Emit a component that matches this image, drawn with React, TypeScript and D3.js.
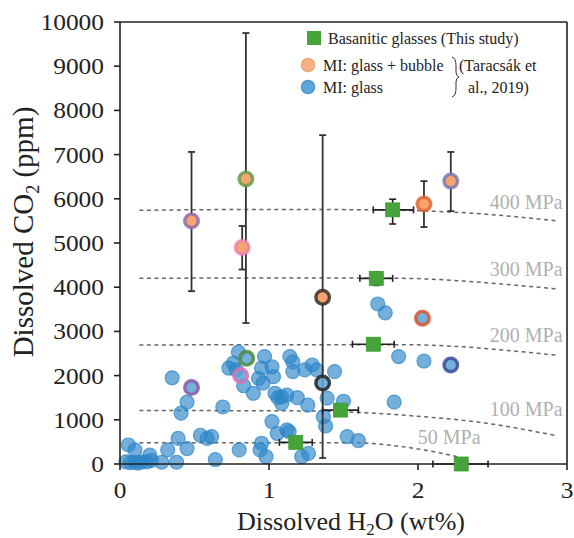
import React from 'react';
import * as d3 from 'd3';

const W = 574;
const H = 538;
const PL = 120, PR = 567, PT = 22, PB = 464;

const xTicks = [0, 1, 2, 3];
const yTicks = [0, 1000, 2000, 3000, 4000, 5000, 6000, 7000, 8000, 9000, 10000];

// MI: glass (Taracsák et al., 2019) [H2O wt%, CO2 ppm]
const glassMI: [number, number][] = [
  [0.056, 430], [0.10, 320], [0.04, 50], [0.07, 30], [0.10, 40], [0.145, 50], [0.18, 50],
  [0.21, 80], [0.20, 200], [0.12, 20], [0.28, 40], [0.32, 320], [0.38, 40], [0.39, 580],
  [0.41, 1150], [0.45, 350], [0.45, 1400], [0.35, 1950], [0.54, 650], [0.585, 580], [0.615, 620],
  [0.64, 100], [0.69, 1290], [0.73, 2170], [0.76, 2280], [0.78, 2130], [0.795, 2530], [0.80, 320],
  [0.83, 1770], [0.895, 1600], [0.93, 1940], [0.95, 2170], [0.96, 1830], [0.97, 2430], [1.02, 2200],
  [1.03, 1975], [1.04, 1600], [1.06, 1500], [1.085, 1520], [1.085, 1370], [1.12, 1560], [1.19, 1500],
  [1.26, 1330], [1.14, 2430], [1.16, 2310], [1.16, 2090], [1.24, 2130], [1.29, 2240], [1.32, 2130],
  [1.44, 2090], [1.39, 1490], [1.50, 1420], [1.365, 1070], [1.38, 860], [1.02, 960], [1.055, 690],
  [1.12, 770], [1.135, 730], [0.95, 470], [0.94, 320], [0.98, 165], [1.22, 165], [1.265, 240],
  [1.525, 620], [1.60, 530], [1.73, 3620], [1.78, 3420], [1.87, 2430], [2.04, 2330], [1.84, 1400],
];

// MI: glass with highlighted (paired) rings
const ringGlassMI: [number, number][] = [
  [0.48, 1730], [0.85, 2390], [0.81, 2000], [1.36, 1830], [2.03, 3300], [2.22, 2240],
];

// MI: glass + bubble
const bubbleMI: [number, number][] = [
  [0.48, 5500], [0.845, 6450], [0.82, 4900], [1.36, 3770], [2.04, 5880], [2.22, 6400],
];
const bubbleErr: [number, number][] = [
  [3910, 7060], [3190, 9750], [4400, 5385], [135, 7440], [5360, 6400], [5720, 7060],
];

// Basanitic glasses (this study)
const basaniteMI: [number, number][] = [
  [1.83, 5750], [1.72, 4200], [1.70, 2710], [1.48, 1220], [1.18, 490], [2.29, 0],
];
const basaniteXErr: [number, number][] = [
  [1.70, 1.97], [1.61, 1.83], [1.56, 1.84], [1.36, 1.60], [1.07, 1.29], [2.10, 2.47],
];
const basaniteYErr: [number, number][] = [
  [5430, 5990], [4040, 4340], [2710, 2710], [1220, 1220], [490, 490], [0, 0],
];

// Isobars
const isobarLabels = ['400 MPa', '300 MPa', '200 MPa', '100 MPa', '50 MPa'];
const isobar400: [number, number][] = [[0.13, 5740], [1.0, 5760], [1.7, 5750], [2.1, 5720], [2.5, 5640], [2.93, 5500]];
const isobar300: [number, number][] = [[0.13, 4200], [1.0, 4210], [1.9, 4200], [2.3, 4140], [2.6, 4060], [2.93, 3960]];
const isobar200: [number, number][] = [[0.13, 2690], [1.0, 2700], [1.9, 2700], [2.3, 2650], [2.6, 2570], [2.93, 2460]];
const isobar100: [number, number][] = [[0.13, 1210], [1.3, 1200], [1.7, 1150], [2.0, 1080], [2.4, 950], [2.93, 640]];
const isobar50: [number, number][] = [[0.13, 482], [1.6, 480], [1.8, 430], [2.0, 340], [2.15, 250], [2.28, 150]];
const isobarLabelAt: [number, number][] = [[2.97, 5930], [2.97, 4410], [2.97, 2920], [2.97, 1245], [2.42, 610]];

// styles
const ringGlassColors = ['#8a5aa8', '#4e8c3a', '#e070b0', '#222222', '#d9532a', '#3a4a9a'];
const bubbleRingColors = ['#8a66b0', '#5f9a48', '#ec80b8', '#2a2420', '#e0602e', '#7276b4'];

const SERIF = '"Liberation Serif", "Times New Roman", serif';

export default function App() {
  const x = d3.scaleLinear().domain([0, 3]).range([PL, PR]);
  const y = d3.scaleLinear().domain([0, 10000]).range([PB, PT]);
  const line = d3.line<[number, number]>().x(d => x(d[0])).y(d => y(d[1])).curve(d3.curveMonotoneX);
  const isobars = [isobar400, isobar300, isobar200, isobar100, isobar50];
  const cap = 3.5;
  const sq = 14;

  return (
    <svg width={W} height={H} style={{ position: 'absolute', left: 0, top: 0, background: '#fff', fontFamily: SERIF }}>
      {/* isobars */}
      {isobars.map((pts, i) => (
        <path key={'iso' + i} d={line(pts) || ''} fill="none" stroke="#666" strokeWidth={1.5}
          strokeDasharray="4,3.5" />
      ))}
      {isobarLabels.map((t, i) => (
        <text key={'isol' + i} x={x(isobarLabelAt[i][0])} y={y(isobarLabelAt[i][1])} dy="0.35em"
          textAnchor="end" fontSize={20} fill="#b0b0b0">{t}</text>
      ))}

      {/* glass MI */}
      {glassMI.map((d, i) => (
        <circle key={'g' + i} cx={x(d[0])} cy={y(d[1])} r={7} fill="#2e86c8" fillOpacity={0.66}
          stroke="#2e86c8" strokeOpacity={0.72} strokeWidth={1.2} />
      ))}

      {/* bubble error bars */}
      {bubbleMI.map((d, i) => (
        <g key={'be' + i} stroke="#333" strokeWidth={1.8}>
          <line x1={x(d[0])} x2={x(d[0])} y1={y(bubbleErr[i][0])} y2={y(bubbleErr[i][1])} />
          <line x1={x(d[0]) - cap} x2={x(d[0]) + cap} y1={y(bubbleErr[i][0])} y2={y(bubbleErr[i][0])} />
          <line x1={x(d[0]) - cap} x2={x(d[0]) + cap} y1={y(bubbleErr[i][1])} y2={y(bubbleErr[i][1])} />
        </g>
      ))}

      {/* ring glass MI */}
      {ringGlassMI.map((d, i) => (
        <circle key={'rg' + i} cx={x(d[0])} cy={y(d[1])} r={6.8} fill="#5aa2d6" fillOpacity={0.85}
          stroke={ringGlassColors[i]} strokeOpacity={0.85} strokeWidth={3.4} />
      ))}

      {/* bubble MI */}
      {bubbleMI.map((d, i) => (
        <circle key={'b' + i} cx={x(d[0])} cy={y(d[1])} r={6.8} fill="#f4a46c"
          stroke={bubbleRingColors[i]} strokeOpacity={0.8} strokeWidth={3.4} />
      ))}

      {/* axes and frame */}
      <g stroke="#222" strokeWidth={1.6} fill="none">
        <line x1={PL} x2={PL} y1={PT} y2={PB} />
        <line x1={PL} x2={PR} y1={PB} y2={PB} />
        <line x1={PL} x2={PR} y1={PT} y2={PT} />
        <line x1={PR} x2={PR} y1={PT} y2={PB} />
        {yTicks.map(t => <line key={'yt' + t} x1={PL - 6} x2={PL} y1={y(t)} y2={y(t)} />)}
        {xTicks.map(t => <line key={'xt' + t} x1={x(t)} x2={x(t)} y1={PB} y2={PB + 6} />)}
      </g>
      {yTicks.map(t => {
        const s = String(t);
        return (
          <text key={'yl' + t} x={PL - 16} y={y(t)} dy="0.35em" textAnchor="end" fontSize={23} fill="#222"
            textLength={s.length * 12.7} lengthAdjust="spacingAndGlyphs">{s}</text>
        );
      })}
      {xTicks.map(t => (
        <text key={'xl' + t} x={x(t)} y={498} textAnchor="middle" fontSize={23} fill="#222"
          textLength={12.7} lengthAdjust="spacingAndGlyphs">{t}</text>
      ))}

      {/* basanite error bars + squares */}
      {basaniteMI.map((d, i) => {
        const cx = x(d[0]), cy = y(d[1]);
        const xl = x(basaniteXErr[i][0]), xr = x(basaniteXErr[i][1]);
        const yl = y(basaniteYErr[i][0]), yh = y(basaniteYErr[i][1]);
        return (
          <g key={'ba' + i} stroke="#222" strokeWidth={1.6}>
            <line x1={xl} x2={xr} y1={cy} y2={cy} />
            <line x1={xl} x2={xl} y1={cy - cap} y2={cy + cap} />
            <line x1={xr} x2={xr} y1={cy - cap} y2={cy + cap} />
            {yl !== yh && (
              <>
                <line x1={cx} x2={cx} y1={yl} y2={yh} />
                <line x1={cx - cap} x2={cx + cap} y1={yl} y2={yl} />
                <line x1={cx - cap} x2={cx + cap} y1={yh} y2={yh} />
              </>
            )}
          </g>
        );
      })}
      {basaniteMI.map((d, i) => (
        <rect key={'bs' + i} x={x(d[0]) - sq / 2} y={y(d[1]) - sq / 2} width={sq} height={sq}
          fill="#45a53a" stroke="#3c9a34" strokeWidth={0.8} />
      ))}

      {/* legend */}
      <rect x={307} y={31} width={14} height={14} fill="#45a53a" />
      <text x={328} y={38} dy="0.35em" fontSize={16} fill="#222">Basanitic glasses (This study)</text>
      <circle cx={308} cy={65} r={6.5} fill="#f6b286" stroke="#f0a478" strokeWidth={1.5} />
      <text x={323} y={65} dy="0.35em" fontSize={16} fill="#222">MI: glass + bubble</text>
      <circle cx={308} cy={87} r={6.5} fill="#5fa4d8" stroke="#4a98d0" strokeWidth={1.5} />
      <text x={323} y={87} dy="0.35em" fontSize={16} fill="#222">MI: glass</text>
      <path d="M452,57 Q456,58 456,66 L456,72 Q456,76 459,77 Q456,78 456,82 L456,88 Q456,96 452,97"
        fill="none" stroke="#333" strokeWidth={1} />
      <text x={459} y={65} dy="0.35em" fontSize={16} fill="#222">(Taracsák et</text>
      <text x={468} y={87} dy="0.35em" fontSize={16} fill="#222">al., 2019)</text>

      {/* axis titles */}
      <text x={351} y={530} textAnchor="middle" fontSize={26} fill="#222">
        Dissolved H<tspan fontSize={17} dy={5}>2</tspan><tspan dy={-5}>O (wt%)</tspan>
      </text>
      <text transform={`translate(33,${232}) rotate(-90)`} textAnchor="middle" fontSize={29} fill="#222">
        Dissolved CO<tspan fontSize={18} dy={6}>2</tspan><tspan dy={-6}> (ppm)</tspan>
      </text>
    </svg>
  );
}
